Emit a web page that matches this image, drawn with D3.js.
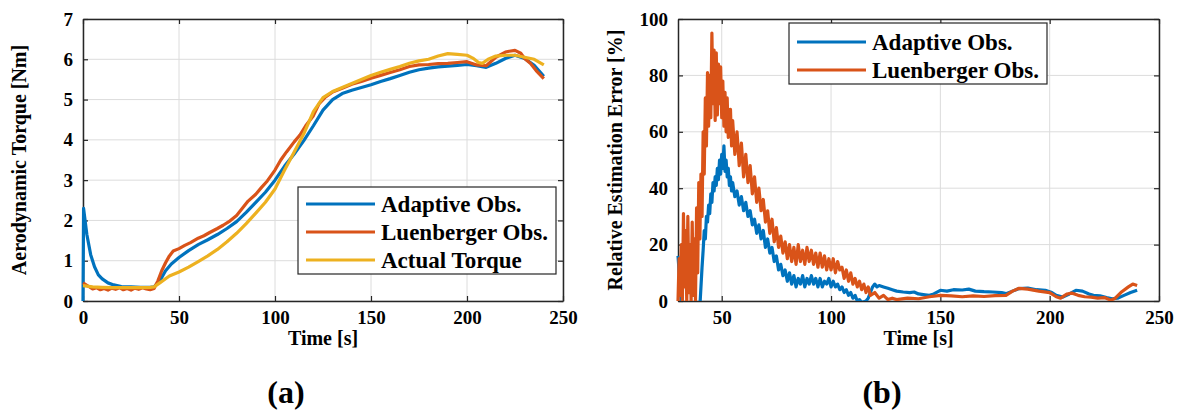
<!DOCTYPE html>
<html>
<head>
<meta charset="utf-8">
<script src="https://cdn.jsdelivr.net/npm/d3@7"></script>
<style>
  body { margin: 0; background: #fff; }
  text { font-family: "Liberation Serif", "Times New Roman", Tinos, Times, "DejaVu Serif", serif; font-weight: bold; fill: #000; }
</style>
</head>
<body>
<div id="chart"></div>
<script>
// ---- panel (a) data: aerodynamic torque [Nm] vs time [s]
var timeAdaptiveA = [0,0.3,2,4,6,8,10,13,16,20,25,30,35,37,40,43,46,50,55,60,65,70,75,80,85,90,95,100,105,110,115,120,125,130,135,140,145,150,155,160,165,170,175,180,185,190,195,200,205,210,215,220,225,230,235,240];
var torqueAdaptive = [0,2.3,1.65,1.15,0.85,0.65,0.55,0.45,0.4,0.36,0.35,0.34,0.34,0.35,0.5,0.75,0.92,1.08,1.25,1.4,1.52,1.65,1.8,1.97,2.2,2.45,2.7,3.0,3.35,3.65,3.98,4.35,4.74,5.0,5.15,5.23,5.3,5.37,5.45,5.52,5.6,5.68,5.74,5.78,5.81,5.83,5.85,5.87,5.84,5.8,5.9,6.02,6.1,6.02,5.85,5.58];

var timeLuenA = [0,1,3,5,7,9,11,13,15,17,19,21,23,25,27,29,31,33,35,37,39,41,43,45,47,50,53,56,60,63,66,70,73,76,80,83,86,90,93,96,100,103,106,110,113,116,120,123,126,130,135,140,145,150,155,160,165,170,175,180,185,190,195,200,205,210,215,220,222,225,228,230,233,236,240];
var torqueLuen = [0.45,0.42,0.36,0.3,0.33,0.28,0.31,0.27,0.32,0.29,0.33,0.28,0.31,0.27,0.32,0.29,0.33,0.3,0.28,0.31,0.5,0.75,0.95,1.12,1.24,1.3,1.38,1.45,1.56,1.62,1.7,1.8,1.88,1.97,2.12,2.3,2.48,2.65,2.82,2.98,3.25,3.5,3.7,3.95,4.12,4.35,4.6,4.9,5.05,5.19,5.28,5.38,5.45,5.53,5.6,5.67,5.74,5.82,5.86,5.87,5.89,5.9,5.92,5.94,5.86,5.84,6.05,6.18,6.2,6.22,6.15,6.02,5.9,5.72,5.52];

var timeActualA = [0,5,10,15,20,25,30,35,37,40,45,50,55,60,65,70,75,80,85,90,95,100,105,110,115,120,125,130,135,140,145,150,155,160,165,170,175,180,185,190,195,200,203,206,208,211,215,220,225,230,235,240];
var torqueActual = [0.38,0.35,0.34,0.33,0.33,0.33,0.33,0.34,0.35,0.45,0.62,0.72,0.84,0.98,1.12,1.28,1.47,1.68,1.92,2.18,2.45,2.78,3.25,3.7,4.15,4.7,5.05,5.2,5.3,5.4,5.5,5.6,5.68,5.75,5.82,5.9,5.96,6.0,6.08,6.14,6.12,6.1,6.03,5.92,5.9,6.0,6.08,6.1,6.1,6.05,6.0,5.86];

// ---- panel (b) data: relative estimation error [%] vs time [s]
var timeAdaptiveB = [30,31,32,38,40,40.5,41,41.5,42,42.5,43,43.5,44,44.5,45,45.5,46,46.5,47,47.5,48,48.5,49,49.5,50,50.5,51,51.5,52,52.5,53,53.5,54,54.5,55,56,57,58,59,60,61,62,63,64,65,66,67,68,69,70,71,72,73,74,75,76,77,78,79,80,81,82,83,84,85,86,87,88,89,90,91,92,93,94,95,96,97,98,99,100,101,102,103,104,105,106,107,108,109,110,111,112,113,114,116,117,118,119,120,121,122,124,126,128,130,133,136,138,140,143,145,147,150,153,156,160,163,166,170,174,178,180,183,186,190,194,198,201,203,206,209,212,215,218,220,223,226,228.6,231,234,237,240];
var errorAdaptive = [16,5,-5,-5,-2,5,12,18,25,22,30,28,34,31,38,35,42,39,44,41,47,43,50,45,52,47,55,46,50,44,47,41,44,39,42,37,39,34,37,32,35,30,32,27,29,24,27,22,25,19,22,17,19,14,16,11,13,9,11,7,10,6,9,5,8,6,9,5,8,6,9,6,8,5,8,5,7,6,8,5,7,5,6,4,5,3,4,2,3,1,2,0,0.5,-0.5,0,1,3,5,6,5,5.5,5,4.5,4,3.5,3.2,3,3.2,2.5,2.2,2,2.5,3.8,3.5,4,3.9,4.2,3.5,3.3,3.2,3,2.6,3.5,4.4,4.6,4,3.8,3,2,1.4,2.5,3.8,3.5,2.5,2,1.8,1.2,0.8,1,2,3,3.8];

var timeLuenB = [30,30.5,31,31.5,32,32.5,33,33.5,34,34.5,35,35.5,36,36.5,37,37.5,38,38.5,39,39.5,40,40.5,41,41.5,42,42.5,43,43.5,44,44.5,45,45.5,46,46.5,47,47.5,48,48.5,49,49.5,50,50.5,51,51.5,52,52.5,53,54,54.5,55,56,57,58,59,60,61,62,63,64,65,66,67,68,69,70,71,72,73,74,75,76,77,78,79,80,81,82,83,84,85,86,87,88,89,90,91,92,93,94,95,96,97,98,99,100,101,102,103,104,105,106,107,108,109,110,111,112,113,114,115,116,117,118,120,122,124,126,128,130,135,140,145,150,155,160,165,170,175,180,183,186,190,195,200,203,205,208,210,213,216,219,222,225,228,230,233,236,238,240];
var errorLuen = [0,15,2,20,0,31,5,25,0,30,3,20,0,28,2,22,0,33,10,42,22,45,30,60,45,72,55,81,62,80,65,95,70,89,64,88,66,84,70,83,65,78,62,74,60,72,58,68,55,64,52,60,48,56,44,52,42,48,38,44,35,40,32,36,28,32,24,29,21,26,19,23,17,21,15,20,14,19,13,20,14,18,13,19,14,18,13,17,12,17,12,16,11,15,11,15,10,14,11,12,8,11,7,10,6,8,5,7,4,6,3,5,2,3,1,2,0.5,1,0.5,1,0.8,1.5,2,1.8,1.5,1.8,1.6,1.9,2,3.5,4.5,4.2,3.5,3,1.5,1,2.5,2.8,2,1.5,1.4,1,1.2,0.3,1,3.3,5,6,5.5];

// ---- axis ticks
var torqueTicks = [0,1,2,3,4,5,6,7];
var timeTicksA = [0,50,100,150,200,250];
var errorTicks = [0,20,40,60,80,100];
var timeTicksB = [50,100,150,200,250];

var colors = { adaptive: "#0072BD", luen: "#D95319", actual: "#EDB120" };
var serif = '"Liberation Serif", "Times New Roman", Tinos, Times, "DejaVu Serif", serif';

var W = 1184, H = 410;
var svg = d3.select("#chart").append("svg").attr("width", W).attr("height", H);

function zip(ts, vs) {
  return ts.map(function (t, i) { return { t: t, v: vs[i] }; });
}

function drawPanel(p) {
  var x = d3.scaleLinear().domain(p.xDomain).range([p.left, p.right]);
  var y = d3.scaleLinear().domain(p.yDomain).range([p.bottom, p.top]);
  var g = svg.append("g");

  // grid
  g.selectAll(".vg").data(p.xTicks).enter().append("line")
    .attr("x1", function (d) { return x(d); }).attr("x2", function (d) { return x(d); })
    .attr("y1", p.top).attr("y2", p.bottom)
    .attr("stroke", "#dcdcdc").attr("stroke-width", 1);
  g.selectAll(".hg").data(p.yTicks).enter().append("line")
    .attr("y1", function (d) { return y(d); }).attr("y2", function (d) { return y(d); })
    .attr("x1", p.left).attr("x2", p.right)
    .attr("stroke", "#dcdcdc").attr("stroke-width", 1);

  // box with inward ticks on all sides
  var axisColor = "#262626";
  var fmt = d3.format("d");
  var xb = d3.axisBottom(x).tickValues(p.xTicks).tickFormat(fmt).tickSizeInner(-5).tickSizeOuter(0).tickPadding(10);
  var xt = d3.axisTop(x).tickValues(p.xTicks).tickSizeInner(-5).tickSizeOuter(0).tickFormat("");
  var yl = d3.axisLeft(y).tickValues(p.yTicks).tickFormat(fmt).tickSizeInner(-5).tickSizeOuter(0).tickPadding(10);
  var yr = d3.axisRight(y).tickValues(p.yTicks).tickSizeInner(-5).tickSizeOuter(0).tickFormat("");
  [
    [xb, "translate(0," + p.bottom + ")"],
    [xt, "translate(0," + p.top + ")"],
    [yl, "translate(" + p.left + ",0)"],
    [yr, "translate(" + p.right + ",0)"]
  ].forEach(function (a) {
    var ax = g.append("g").attr("transform", a[1]).call(a[0]).attr("font-family", serif);
    ax.select(".domain").attr("stroke", axisColor).attr("stroke-width", 1.5);
    ax.selectAll(".tick line").attr("stroke", axisColor).attr("stroke-width", 1.2);
    ax.selectAll("text").style("font-family", serif).attr("font-weight", "bold")
      .attr("font-size", 19).attr("fill", "#000");
  });

  // lines, clipped to the plot box
  var clipId = "clip-" + p.id;
  svg.append("clipPath").attr("id", clipId).append("rect")
    .attr("x", p.left - 2).attr("y", p.top)
    .attr("width", p.right - p.left + 2).attr("height", p.bottom - p.top);
  var line = d3.line().x(function (d) { return x(d.t); }).y(function (d) { return y(d.v); });
  var lg = g.append("g").attr("clip-path", "url(#" + clipId + ")");
  p.series.forEach(function (s) {
    lg.append("path").datum(s.data)
      .attr("fill", "none").attr("stroke", s.color)
      .attr("stroke-width", 3.2).attr("stroke-linejoin", "round")
      .attr("d", line);
  });

  // axis labels
  g.append("text")
    .attr("x", (p.left + p.right) / 2).attr("y", p.bottom + 44)
    .attr("text-anchor", "middle").attr("font-size", 20)
    .text("Time [s]");
  g.append("text")
    .attr("transform", "translate(" + p.yLabelX + "," + (p.top + p.bottom) / 2 + ") rotate(-90)")
    .attr("text-anchor", "middle").attr("dy", "0.35em").attr("font-size", 20)
    .text(p.yLabel);

  // legend
  var L = p.legend;
  g.append("rect").attr("x", L.x).attr("y", L.y).attr("width", L.w).attr("height", L.h)
    .attr("fill", "#fff").attr("stroke", axisColor).attr("stroke-width", 1.2);
  p.series.forEach(function (s, i) {
    var cy = L.y + L.first + i * L.step;
    g.append("line").attr("x1", L.x + 8).attr("x2", L.x + 77)
      .attr("y1", cy).attr("y2", cy).attr("stroke", s.color).attr("stroke-width", 3);
    g.append("text").attr("x", L.x + 83).attr("y", cy).attr("dy", "0.35em")
      .attr("font-size", 23).text(s.name);
  });

  // caption
  svg.append("text").attr("x", p.captionX).attr("y", 403)
    .attr("text-anchor", "middle").attr("font-size", 32).text(p.caption);
}

drawPanel({
  id: "a",
  left: 83, right: 563, top: 19, bottom: 301,
  xDomain: [0, 250], yDomain: [0, 7],
  xTicks: timeTicksA, yTicks: torqueTicks,
  yLabel: "Aerodynamic Torque [Nm]", yLabelX: 19,
  series: [
    { name: "Adaptive Obs.", color: colors.adaptive, data: zip(timeAdaptiveA, torqueAdaptive) },
    { name: "Luenberger Obs.", color: colors.luen, data: zip(timeLuenA, torqueLuen) },
    { name: "Actual Torque", color: colors.actual, data: zip(timeActualA, torqueActual) }
  ],
  legend: { x: 298, y: 187, w: 258, h: 87, first: 17, step: 28 },
  caption: "(a)", captionX: 286
});

drawPanel({
  id: "b",
  left: 678, right: 1159, top: 19, bottom: 301,
  xDomain: [30, 250], yDomain: [0, 100],
  xTicks: timeTicksB, yTicks: errorTicks,
  yLabel: "Relative Estimation Error [%]", yLabelX: 615,
  series: [
    { name: "Adaptive Obs.", color: colors.adaptive, data: zip(timeAdaptiveB, errorAdaptive) },
    { name: "Luenberger Obs.", color: colors.luen, data: zip(timeLuenB, errorLuen) }
  ],
  legend: { x: 789, y: 23, w: 258, h: 61, first: 19, step: 28 },
  caption: "(b)", captionX: 882
});
</script>
</body>
</html>
